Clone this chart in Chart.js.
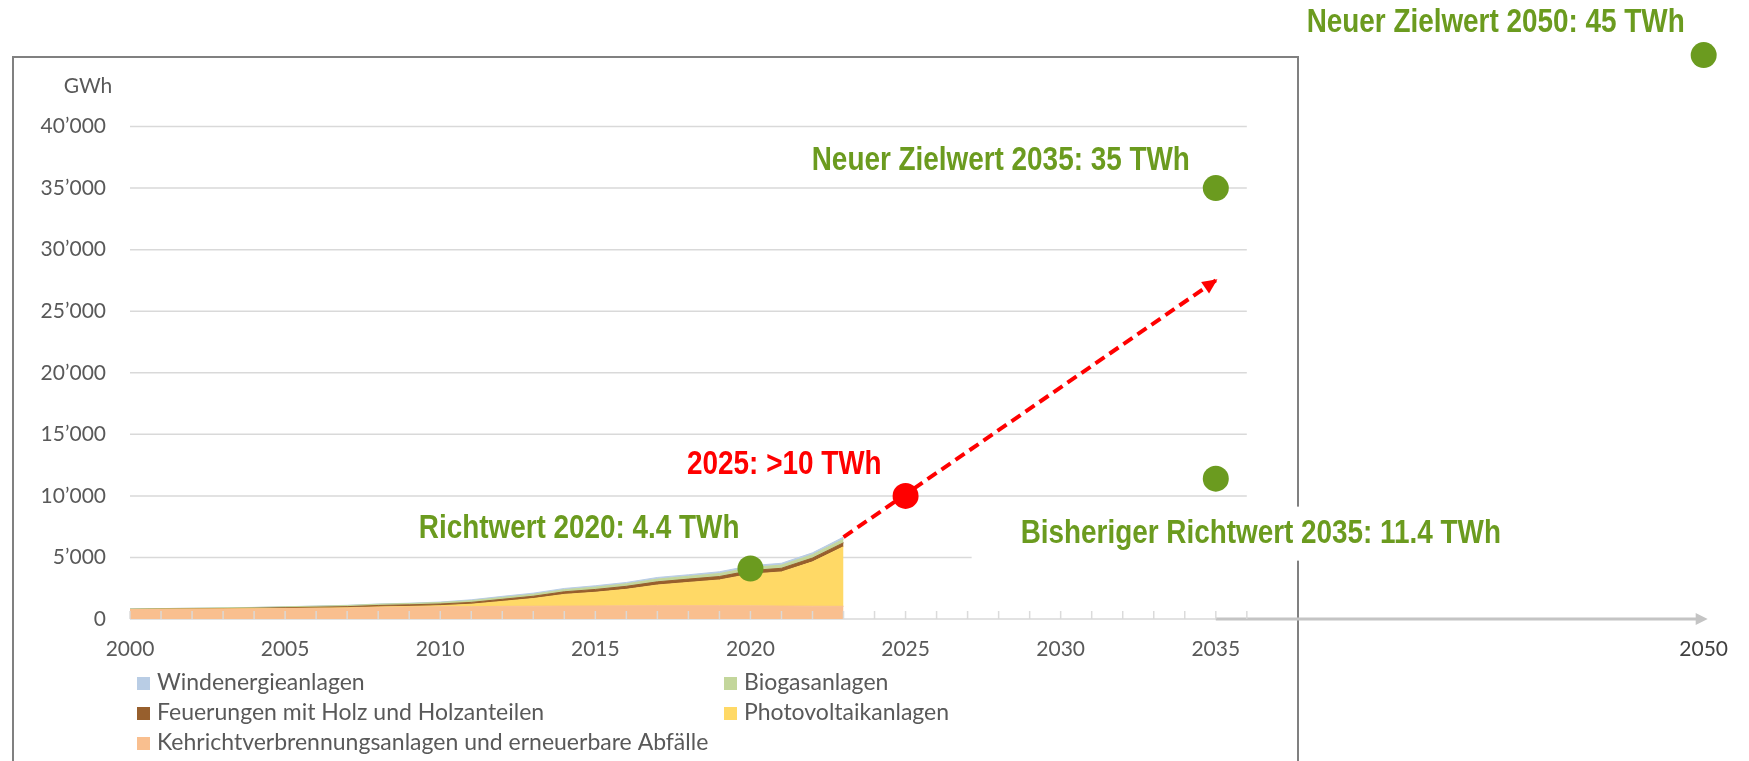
<!DOCTYPE html>
<html>
<head>
<meta charset="utf-8">
<script src="https://cdn.jsdelivr.net/npm/chart.js@4.4.1/dist/chart.umd.min.js"></script>
<style>
  html, body { margin: 0; padding: 0; background: #fff; }
  #wrap { position: relative; width: 1749px; height: 761px; }
</style>
</head>
<body>
<div id="wrap"><canvas id="chart" width="1749" height="761"></canvas></div>
<script>
// Stromproduktion aus erneuerbaren Energien (ohne Wasserkraft), GWh
const years = [2000, 2001, 2002, 2003, 2004, 2005, 2006, 2007, 2008, 2009, 2010, 2011,
               2012, 2013, 2014, 2015, 2016, 2017, 2018, 2019, 2020, 2021, 2022, 2023];
const kehricht = [760, 775, 790, 805, 820, 840, 860, 880, 950, 970, 990, 1000,
                  1030, 1040, 1050, 1060, 1070, 1080, 1080, 1080, 1070, 1050, 1040, 1030];
const photovoltaik = [10, 10, 12, 14, 16, 18, 20, 25, 30, 50, 90, 200,
                      400, 620, 950, 1110, 1340, 1680, 1890, 2090, 2570, 2770, 3600, 4840];
const holz = [10, 15, 20, 30, 40, 60, 80, 100, 120, 130, 140, 150,
              170, 190, 210, 230, 245, 260, 270, 280, 290, 300, 310, 320];
const biogas = [40, 45, 50, 55, 60, 70, 80, 90, 100, 110, 120, 140,
                150, 160, 170, 190, 205, 220, 230, 240, 250, 260, 275, 290];
const wind = [2, 2, 3, 4, 5, 8, 15, 16, 19, 23, 37, 70,
              88, 90, 100, 110, 108, 132, 122, 146, 145, 146, 150, 170];

const seriesNames = ['Kehrichtverbrennungsanlagen und erneuerbare Abfälle', 'Photovoltaikanlagen',
                     'Feuerungen mit Holz und Holzanteilen', 'Biogasanlagen', 'Windenergieanlagen'];

// Zielwerte
const targetYears = [2020, 2035, 2035, 2050];
const targetValues = [4100, 35000, 11400, 45800];
const targetLabels = ['Richtwert 2020: 4.4 TWh', 'Neuer Zielwert 2035: 35 TWh',
                      'Bisheriger Richtwert 2035: 11.4 TWh', 'Neuer Zielwert 2050: 45 TWh'];
const milestoneYears = [2025];
const milestoneValues = [10000];
const milestoneLabels = ['2025: >10 TWh'];
const trendYears = [2023, 2035];
const trendValues = [6650, 27500];

// Achsen
const xLabelYears = [2000, 2005, 2010, 2015, 2020, 2025, 2030, 2035, 2050];
const yTickValues = [0, 5000, 10000, 15000, 20000, 25000, 30000, 35000, 40000];
const axisEndYear = 2036;

const GREEN = '#6B9B1F';
const RED = '#FF0000';
const GREY_TEXT = '#595959';
const areaColors = ['#F9BF8F', '#FFD966', '#975F2D', '#C3D69B', '#B9CDE5'];

// x-Achse mit Bruch nach 2036 (2036..2050 gestaucht)
const BREAK_FRAC = 0.7024;
class BrokenLinearScale extends Chart.LinearScale {
  static id = 'brokenLinear';
  static defaults = Chart.LinearScale.defaults;
  _toDecimal(v) {
    if (v <= axisEndYear) return (v - this.min) / (axisEndYear - this.min) * BREAK_FRAC;
    return BREAK_FRAC + (v - axisEndYear) / (this.max - axisEndYear) * (1 - BREAK_FRAC);
  }
  getPixelForValue(value) {
    if (value === null || isNaN(value)) return NaN;
    return this.getPixelForDecimal(this._toDecimal(value));
  }
  getValueForPixel(pixel) {
    const d = this.getDecimalForPixel(pixel);
    if (d <= BREAK_FRAC) return this.min + d / BREAK_FRAC * (axisEndYear - this.min);
    return axisEndYear + (d - BREAK_FRAC) / (1 - BREAK_FRAC) * (this.max - axisEndYear);
  }
}
Chart.register(BrokenLinearScale);

const toPoints = (xs, ys) => xs.map((x, i) => ({ x: x, y: ys[i] }));

const areaSeries = [kehricht, photovoltaik, holz, biogas, wind];
const areaDatasets = areaSeries.map((vals, i) => ({
  label: seriesNames[i],
  data: toPoints(years, vals),
  backgroundColor: areaColors[i],
  borderColor: areaColors[i],
  borderWidth: 1,
  pointRadius: 0,
  tension: 0,
  fill: i === 0 ? 'origin' : '-1',
  order: 10
}));

const data = {
  datasets: areaDatasets.concat([
    {
      label: 'Trend',
      data: toPoints(trendYears, trendValues),
      borderColor: RED,
      borderWidth: 4,
      borderDash: [11, 6],
      pointRadius: 0,
      fill: false,
      stack: 'trend',
      order: 3
    },
    {
      label: 'Etappe',
      data: toPoints(milestoneYears, milestoneValues),
      showLine: false,
      pointRadius: 13,
      pointBackgroundColor: RED,
      pointBorderWidth: 0,
      stack: 'etappe',
      order: 2
    },
    {
      label: 'Ziele',
      data: toPoints(targetYears, targetValues),
      showLine: false,
      pointRadius: 13,
      pointBackgroundColor: GREEN,
      pointBorderWidth: 0,
      stack: 'ziele',
      order: 1
    }
  ])
};

let narrowOk = null;
function boldNarrow(ctx) {
  if (narrowOk === null) {
    ctx.font = 'bold 34px "Liberation Sans Narrow", monospace';
    const a = ctx.measureText('Neuer Zielwert').width;
    ctx.font = 'bold 34px monospace';
    const b = ctx.measureText('Neuer Zielwert').width;
    narrowOk = Math.abs(a - b) > 1;
  }
  ctx.font = narrowOk ? 'bold 34px "Liberation Sans Narrow"' : 'bold 34px "Liberation Sans", Arial';
  return narrowOk ? 1 : 0.82;
}

function drawNote(ctx, text, color, ax, ay, align, withBg) {
  ctx.save();
  const sx = boldNarrow(ctx);
  const w = ctx.measureText(text).width * sx;
  if (withBg) {
    const left = align === 'center' ? ax - w / 2 : ax - w;
    ctx.fillStyle = '#fff';
    ctx.fillRect(left - 49, ay - 27, w + 57, 54);
  }
  ctx.translate(ax, ay);
  ctx.scale(sx, 1);
  ctx.fillStyle = color;
  ctx.textAlign = align;
  ctx.textBaseline = 'middle';
  ctx.fillText(text, 0, 0);
  ctx.restore();
}

const targetNotePos = [
  { dx: -11, dy: -40, align: 'right' },
  { dx: -26, dy: -27, align: 'right' },
  { dx: 45, dy: 55, align: 'center', bg: true },
  { dx: -19, dy: -32, align: 'right' }
];
const milestoneNotePos = [{ dx: -24, dy: -31, align: 'right' }];

const overlayPlugin = {
  id: 'overlay',
  beforeDraw(chart) {
    const ctx = chart.ctx;
    ctx.save();
    ctx.fillStyle = '#fff';
    ctx.fillRect(0, 0, chart.width, chart.height);
    ctx.strokeStyle = '#808080';
    ctx.lineWidth = 2;
    ctx.strokeRect(13, 57, 1285, 760);
    ctx.restore();
  },
  beforeDatasetsDraw(chart) {
    const { ctx } = chart;
    const x = chart.scales.x, y = chart.scales.y;
    const x0 = x.getPixelForValue(years[0]);
    const x1 = x.getPixelForValue(axisEndYear);
    const yb = y.getPixelForValue(0);
    ctx.save();
    // Gitterlinien nur im Bereich 2000-2036
    ctx.strokeStyle = '#d9d9d9';
    ctx.lineWidth = 1.5;
    y.ticks.forEach(t => {
      const py = y.getPixelForValue(t.value);
      ctx.beginPath();
      ctx.moveTo(x0, py);
      ctx.lineTo(x1, py);
      ctx.stroke();
    });
    // Verlängerung bis 2050 mit Pfeil
    const xs = x.getPixelForValue(2035);
    const xe = x.getPixelForValue(2050) + 4;
    ctx.strokeStyle = '#c4c4c4';
    ctx.fillStyle = '#c4c4c4';
    ctx.lineWidth = 3;
    ctx.beginPath();
    ctx.moveTo(xs, yb);
    ctx.lineTo(xe - 10, yb);
    ctx.stroke();
    ctx.beginPath();
    ctx.moveTo(xe, yb);
    ctx.lineTo(xe - 12, yb - 6);
    ctx.lineTo(xe - 12, yb + 6);
    ctx.closePath();
    ctx.fill();
    // Einheit
    ctx.fillStyle = GREY_TEXT;
    ctx.font = '21px Lato';
    ctx.textAlign = 'center';
    ctx.textBaseline = 'middle';
    ctx.fillText('GWh', chart.chartArea.left - 42, y.getPixelForValue(yTickValues[yTickValues.length - 1]) - 40);
    ctx.restore();
  },
  afterDatasetsDraw(chart) {
    const { ctx } = chart;
    const x = chart.scales.x, y = chart.scales.y;
    const yb = y.getPixelForValue(0);
    ctx.save();
    // Jahres-Teilstriche
    ctx.strokeStyle = 'rgba(217,217,217,0.95)';
    ctx.lineWidth = 1.5;
    for (let yr = years[0]; yr <= axisEndYear; yr++) {
      const px = x.getPixelForValue(yr);
      ctx.beginPath();
      ctx.moveTo(px, yb);
      ctx.lineTo(px, yb - 8);
      ctx.stroke();
    }
    // Pfeilspitze Trend
    const tm = chart.getDatasetMeta(5).data;
    const p0 = tm[0], p1 = tm[tm.length - 1];
    const ang = Math.atan2(p1.y - p0.y, p1.x - p0.x);
    ctx.translate(p1.x, p1.y);
    ctx.rotate(ang);
    ctx.fillStyle = RED;
    ctx.beginPath();
    ctx.moveTo(2, 0);
    ctx.lineTo(-13, -7);
    ctx.lineTo(-13, 7);
    ctx.closePath();
    ctx.fill();
    ctx.restore();

    // Beschriftungen
    const gm = chart.getDatasetMeta(7).data;
    gm.forEach((pt, i) => {
      const p = targetNotePos[i];
      drawNote(ctx, targetLabels[i], GREEN, pt.x + p.dx, pt.y + p.dy, p.align, p.bg);
    });
    const rm = chart.getDatasetMeta(6).data;
    rm.forEach((pt, i) => {
      const p = milestoneNotePos[i];
      drawNote(ctx, milestoneLabels[i], RED, pt.x + p.dx, pt.y + p.dy, p.align, p.bg);
    });
  },
  afterDraw(chart) {
    // Legende in zwei Spalten, oberste Serie zuerst
    const { ctx } = chart;
    const items = chart.data.datasets.slice(0, 5).map((d, i) => ({ text: d.label, color: areaColors[i] })).reverse();
    const colX = [137, 724];
    const rowY = [683, 713, 743];
    ctx.save();
    ctx.font = '23px Lato';
    ctx.textAlign = 'left';
    ctx.textBaseline = 'middle';
    items.forEach((it, i) => {
      const cx = colX[i % 2];
      const cy = rowY[Math.floor(i / 2)];
      ctx.fillStyle = it.color;
      ctx.fillRect(cx, cy - 6, 13, 13);
      ctx.fillStyle = GREY_TEXT;
      ctx.fillText(it.text, cx + 20, cy);
    });
    ctx.restore();
  }
};

const tickFont = { family: 'Lato', size: 21 };

new Chart(document.getElementById('chart'), {
  type: 'line',
  data: data,
  plugins: [overlayPlugin],
  options: {
    responsive: false,
    animation: false,
    events: [],
    layout: { autoPadding: false, padding: { left: 0, right: 29, top: 37, bottom: 0 } },
    plugins: {
      legend: { display: false },
      tooltip: { enabled: false }
    },
    scales: {
      x: {
        type: 'brokenLinear',
        min: 2000,
        max: 2050.5,
        grid: { display: false, drawTicks: false },
        border: { display: false },
        afterBuildTicks: (s) => { s.ticks = xLabelYears.map(v => ({ value: v })); },
        afterFit: (s) => { s.height = 142; },
        ticks: {
          autoSkip: false,
          maxRotation: 0,
          padding: 18,
          font: tickFont,
          color: (c) => (c.tick && c.tick.value === 2050 ? '#404040' : GREY_TEXT),
          callback: (v) => String(v)
        }
      },
      y: {
        stacked: true,
        min: 0,
        max: 47270,
        grid: { display: false, drawTicks: false },
        border: { display: false },
        afterBuildTicks: (s) => { s.ticks = yTickValues.map(v => ({ value: v })); },
        afterFit: (s) => { s.width = 130; },
        ticks: {
          padding: 24,
          font: tickFont,
          color: GREY_TEXT,
          callback: (v) => (v === 0 ? '0' : (v / 1000) + '\u2019000')
        }
      }
    }
  }
});
</script>
</body>
</html>
